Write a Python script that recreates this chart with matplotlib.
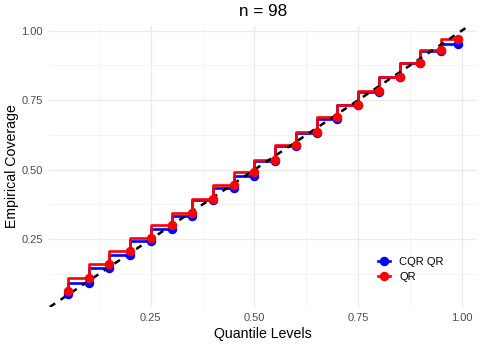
import matplotlib
matplotlib.use("Agg")
import matplotlib.pyplot as plt
from matplotlib.lines import Line2D
import numpy as np

# quantile levels on the x axis
levels = [0.05, 0.10, 0.15, 0.20, 0.25, 0.30, 0.35, 0.40, 0.45, 0.50,
          0.55, 0.60, 0.65, 0.70, 0.75, 0.80, 0.85, 0.90, 0.95, 0.99]

# empirical coverage, CQR QR
cov_cqr = [0.052, 0.094, 0.145, 0.193, 0.243, 0.286, 0.334, 0.391, 0.435, 0.479,
           0.533, 0.584, 0.631, 0.682, 0.731, 0.780, 0.833, 0.884, 0.927, 0.952]

# empirical coverage, QR
cov_qr = [0.064, 0.109, 0.159, 0.207, 0.255, 0.301, 0.345, 0.394, 0.445, 0.491,
          0.535, 0.589, 0.637, 0.688, 0.733, 0.784, 0.833, 0.884, 0.930, 0.971]

series_names = ["CQR QR", "QR"]
series_colors = ["#0000FF", "#FF0000"]
title = "n = 98"

plt.rcParams["font.family"] = ["Liberation Sans", "DejaVu Sans"]

fig = plt.figure(figsize=(4.82, 3.44), dpi=100)
ax = fig.add_axes([48.5 / 482, 1 - 307 / 344, (477 - 48.5) / 482, (307 - 26) / 344])

# steps, then the diagonal, then the points
for vals, col in zip([cov_cqr, cov_qr], series_colors):
    ax.plot(levels, vals, drawstyle="steps-pre", color=col, lw=1.9, zorder=3)

ax.axline((0, 0), slope=1, color="black", lw=1.8, ls=(0, (2.6, 2.6)), zorder=4)

for vals, col in zip([cov_cqr, cov_qr], series_colors):
    ax.plot(levels, vals, "o", color=col, ms=5.8, zorder=5)

# ggplot style 5% expansion of the data range
x = np.array(levels)
y = np.concatenate([cov_cqr, cov_qr])
ax.set_xlim(x.min() - 0.05 * np.ptp(x), x.max() + 0.05 * np.ptp(x))
ax.set_ylim(y.min() - 0.05 * np.ptp(y), y.max() + 0.05 * np.ptp(y))

# ticks and grid
ax.set_xticks([0.25, 0.50, 0.75, 1.00])
ax.set_yticks([0.25, 0.50, 0.75, 1.00])
ax.set_xticks([0.125, 0.375, 0.625, 0.875], minor=True)
ax.set_yticks([0.125, 0.375, 0.625, 0.875], minor=True)
ax.grid(which="major", color="#EBEBEB", lw=1.0, zorder=0)
ax.grid(which="minor", color="#F2F2F2", lw=0.6, zorder=0)
ax.tick_params(which="both", length=0, labelsize=8, labelcolor="#4D4D4D")
ax.tick_params(axis="x", pad=4)
ax.tick_params(axis="y", pad=4)
for s in ax.spines.values():
    s.set_visible(False)

ax.set_xlabel("Quantile Levels", fontsize=10.2, labelpad=3)
ax.set_ylabel("Empirical Coverage", fontsize=10.2, labelpad=2)
ax.set_title(title, fontsize=12.3, pad=7)

# legend with line + point glyph
handles = [Line2D([0], [0], color=c, lw=1.9, marker="o", ms=5.8) for c in series_colors]
ax.legend(handles, series_names, loc="lower right", bbox_to_anchor=(0.946, 0.052),
          frameon=False, fontsize=8, handlelength=1.1, handletextpad=0.8,
          labelspacing=0.5)

fig.savefig("out.png", dpi=100)
